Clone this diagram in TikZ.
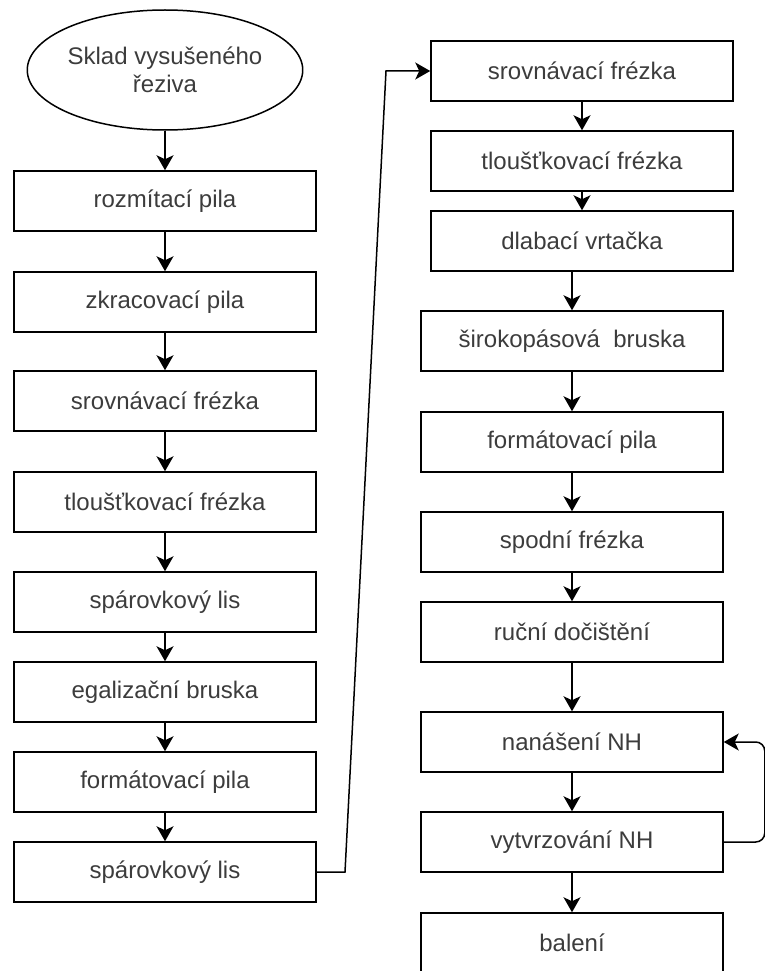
\documentclass[tikz,border=0pt]{standalone}
\usepackage{fontspec}
\setmainfont{Liberation Sans}
\usetikzlibrary{shapes.geometric,arrows.meta}

\definecolor{labelgray}{RGB}{60,60,60}

\tikzset{
  stepbox/.style={draw, line width=1.5pt, rectangle, minimum width=302pt,
    minimum height=60pt, inner sep=0pt, text=labelgray,
    font=\fontsize{24}{28}\selectfont},
  startnode/.style={draw, line width=1.5pt, ellipse, minimum width=244pt,
    minimum height=120pt, inner sep=0pt, align=center, text=labelgray,
    font=\fontsize{24}{28}\selectfont},
  flow/.style={line width=1.5pt, -{Stealth[length=15pt,width=17pt,inset=4pt]}}
}

\begin{document}
\begin{tikzpicture}[x=1pt, y=-1pt]
    \useasboundingbox (0,0) rectangle (765,971);

    % --- Left column ---
    \node[startnode] (sklad) at (165,70) {Sklad vysušeného\\řeziva};
    \node[stepbox] (rozm) at (165,201) {rozmítací pila};
    \node[stepbox] (zkrac) at (165,302) {zkracovací pila};
    \node[stepbox] (srovA) at (165,401) {srovnávací frézka};
    \node[stepbox] (tlouA) at (165,502) {tloušťkovací frézka};
    \node[stepbox] (sparA) at (165,602) {spárovkový lis};
    \node[stepbox] (egal) at (165,692) {egalizační bruska};
    \node[stepbox] (formA) at (165,782) {formátovací pila};
    \node[stepbox] (sparB) at (165,872) {spárovkový lis};

    % --- Right column ---
    \node[stepbox] (srovB) at (582,71) {srovnávací frézka};
    \node[stepbox] (tlouB) at (582,161) {tloušťkovací frézka};
    \node[stepbox] (dlab) at (582,241) {dlabací vrtačka};
    \node[stepbox] (siro) at (572,341) {širokopásová\ \ bruska};
    \node[stepbox] (formB) at (572,442) {formátovací pila};
    \node[stepbox] (spod) at (572,542) {spodní frézka};
    \node[stepbox] (rucni) at (572,632) {ruční dočištění};
    \node[stepbox] (nanas) at (572,742) {nanášení NH};
    \node[stepbox] (vytvr) at (572,842) {vytvrzování NH};
    \node[stepbox] (balen) at (572,943) {balení};

    % --- Flow, left column ---
    \draw[flow] (sklad) -- (rozm);
    \draw[flow] (rozm) -- (zkrac);
    \draw[flow] (zkrac) -- (srovA);
    \draw[flow] (srovA) -- (tlouA);
    \draw[flow] (tlouA) -- (sparA);
    \draw[flow] (sparA) -- (egal);
    \draw[flow] (egal) -- (formA);
    \draw[flow] (formA) -- (sparB);

    % --- Link between the columns ---
    \coordinate (bendA) at (345,872);
    \coordinate (bendB) at (386,71);
    \draw[flow] (sparB.east) -- (bendA) -- (bendB) -- (srovB.west);

    % --- Flow, right column ---
    \draw[flow] (srovB) -- (tlouB);
    \draw[flow] (tlouB) -- (dlab);
    \draw[flow] (dlab.south -| siro.north) -- (siro.north);
    \draw[flow] (siro) -- (formB);
    \draw[flow] (formB) -- (spod);
    \draw[flow] (spod) -- (rucni);
    \draw[flow] (rucni) -- (nanas);
    \draw[flow] (nanas) -- (vytvr);
    \draw[flow] (vytvr) -- (balen);

    % --- Loop back ---
    \draw[flow, rounded corners=9pt] (vytvr.east) -- ++(41,0) |- (nanas.east);

\end{tikzpicture}
\end{document}
